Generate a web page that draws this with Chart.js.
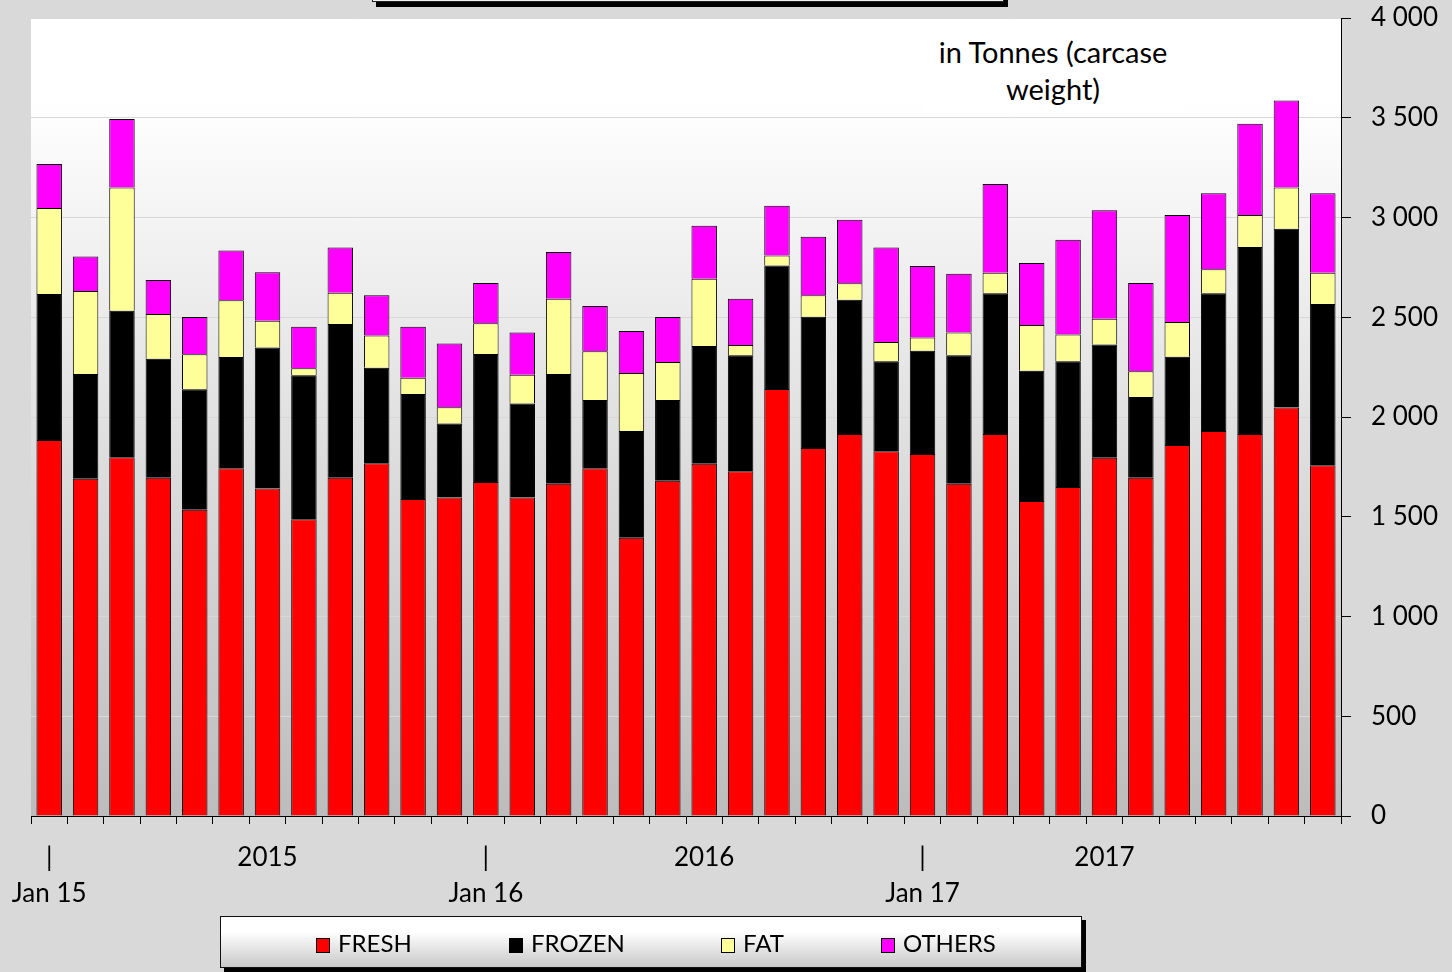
<!DOCTYPE html>
<html>
<head>
<meta charset="utf-8">
<script src="https://cdn.jsdelivr.net/npm/chart.js@4.4.1/dist/chart.umd.min.js"></script>
<style>
  body { margin: 0; background: #d9d9d9; font-family: Lato, "Open Sans", sans-serif; }
  #wrap { position: relative; width: 1452px; height: 972px; overflow: hidden; background: #d9d9d9; }
  #chart { position: absolute; left: 0; top: 0; }
  #titleBox {
    position: absolute; left: 372px; top: -40px; width: 630px; height: 40px;
    background: #f2f2f2; border: 1px solid #222; box-shadow: 4px 5px 0 #000;
  }
  #unitNote {
    position: absolute; left: 922px; top: 33px; width: 262px; height: 78px;
    background: #fff; color: #000; font-size: 29px; line-height: 37px; text-align: center;
  }
  #legend {
    position: absolute; left: 220px; top: 916px; width: 860px; height: 50px;
    border: 1px solid #111; box-shadow: 4px 4px 0 #000;
    background: linear-gradient(#ffffff, #ffffff 30%, #c8c8c8);
  }
  .item { position: absolute; top: 13px; font-size: 24px; line-height: 26px; color: #000; white-space: nowrap; }
  .sw { display: inline-block; width: 12px; height: 13px; border: 1px solid #000; margin-right: 8px; vertical-align: -1px; }
</style>
</head>
<body>
<div id="wrap">
  <canvas id="chart" width="1452" height="972"></canvas>
  <div id="titleBox"></div>
  <div id="unitNote">in Tonnes (carcase<br>weight)</div>
  <div id="legend"></div>
</div>
<script>
const months = [
  "Jan 15","Feb 15","Mar 15","Apr 15","May 15","Jun 15","Jul 15","Aug 15","Sep 15","Oct 15","Nov 15","Dec 15",
  "Jan 16","Feb 16","Mar 16","Apr 16","May 16","Jun 16","Jul 16","Aug 16","Sep 16","Oct 16","Nov 16","Dec 16",
  "Jan 17","Feb 17","Mar 17","Apr 17","May 17","Jun 17","Jul 17","Aug 17","Sep 17","Oct 17","Nov 17","Dec 17"
];

// what shows under each month on the axis
const axisLabels = {
  "Jan 15": ["|", "Jan 15"], "Jul 15": "2015",
  "Jan 16": ["|", "Jan 16"], "Jul 16": "2016",
  "Jan 17": ["|", "Jan 17"], "Jun 17": "2017"
};

const fresh  = [1885,1690,1798,1696,1535,1743,1642,1487,1696,1768,1589,1596,
                1674,1596,1666,1743,1395,1681,1766,1728,2140,1845,1915,1828,
                1815,1666,1915,1579,1649,1796,1696,1860,1930,1915,2047,1758];
const frozen = [732,526,735,596,604,558,706,722,770,479,526,372,
                642,472,550,342,535,404,590,581,619,658,673,451,
                517,643,705,653,630,568,404,442,690,937,897,808];
const fat    = [431,416,618,224,175,284,135,35,157,161,82,81,
                154,144,377,244,291,191,337,52,51,107,82,97,
                66,114,103,229,135,129,129,174,120,161,206,157];
const others = [220,172,343,171,187,250,242,209,226,202,256,320,
                202,211,234,227,210,225,266,232,249,294,319,473,
                359,295,445,311,475,543,443,537,381,457,437,398];

const seriesNames  = ["FRESH", "FROZEN", "FAT", "OTHERS"];
const seriesColors = ["#ff0000", "#000000", "#ffff99", "#ff00ff"];
const yTicks = [0, 500, 1000, 1500, 2000, 2500, 3000, 3500, 4000];

function fmtThousands(v) {
  return String(v).replace(/\B(?=(\d{3})+(?!\d))/g, " ");
}

const plotBg = {
  id: "plotBg",
  beforeDraw(chart) {
    const { ctx, chartArea: a } = chart;
    const g = ctx.createLinearGradient(0, a.top, 0, a.bottom);
    g.addColorStop(0, "#ffffff");
    g.addColorStop(0.1, "#ffffff");
    g.addColorStop(1, "#bcbcbc");
    ctx.save();
    ctx.fillStyle = g;
    ctx.fillRect(a.left, a.top, a.right - a.left, a.bottom - a.top);
    ctx.restore();
  }
};

const data = [fresh, frozen, fat, others];

new Chart(document.getElementById("chart"), {
  type: "bar",
  data: {
    labels: months,
    datasets: seriesNames.map((name, i) => ({
      label: name,
      data: data[i],
      backgroundColor: seriesColors[i],
      borderColor: "#000",
      borderWidth: 1,
      barPercentage: 0.7,
      categoryPercentage: 1.0
    }))
  },
  options: {
    responsive: false,
    animation: false,
    layout: { padding: { left: 31, top: 18, right: 0, bottom: 0 } },
    plugins: { legend: { display: false }, tooltip: { enabled: false } },
    scales: {
      x: {
        stacked: true,
        afterFit(scale) {
          scale.height = 156;
          scale.paddingLeft = 0; scale.paddingRight = 0;
        },
        grid: { drawOnChartArea: false, drawTicks: true, tickLength: 8, tickColor: "#000", tickWidth: 1 },
        border: { display: true, color: "#000", width: 1 },
        ticks: {
          autoSkip: false, maxRotation: 0, minRotation: 0, padding: 15,
          color: "#000", font: { family: "Lato", size: 26, lineHeight: 1.4 },
          callback(val, idx) { return axisLabels[months[idx]] || ""; }
        }
      },
      y: {
        stacked: true,
        position: "right",
        min: 0, max: 4000,
        afterFit(scale) {
          scale.width = 111;
          scale.paddingTop = 0; scale.paddingBottom = 0;
        },
        afterBuildTicks(scale) { scale.ticks = yTicks.map(v => ({ value: v })); },
        grid: { color: "#d8d8d8", lineWidth: 1, drawTicks: true, tickLength: 10, tickColor: "#000" },
        border: { display: true, color: "#000", width: 1 },
        ticks: {
          padding: 20, color: "#000", font: { family: "Lato", size: 26 },
          callback(v) { return fmtThousands(v); }
        }
      }
    }
  },
  plugins: [plotBg]
});

// legend
const legendEl = document.getElementById("legend");
const legendX = [95, 288, 500, 660];
legendEl.innerHTML = seriesNames.map((n, i) =>
  `<div class="item" style="left:${legendX[i]}px"><span class="sw" style="background:${seriesColors[i]}"></span>${n}</div>`
).join("");
</script>
</body>
</html>
